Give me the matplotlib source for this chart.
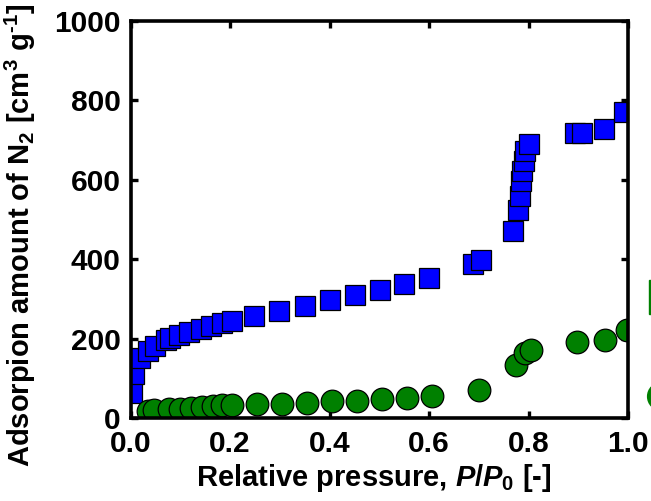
import matplotlib
matplotlib.use("Agg")
import matplotlib.pyplot as plt
from matplotlib.lines import Line2D

plt.rcParams['font.family'] = ['Liberation Sans', 'DejaVu Sans']
plt.rcParams['font.weight'] = 'bold'
plt.rcParams['mathtext.fontset'] = 'custom'
plt.rcParams['mathtext.rm'] = 'Liberation Sans:bold'
plt.rcParams['mathtext.it'] = 'Liberation Sans:bold:italic'
plt.rcParams['mathtext.bf'] = 'Liberation Sans:bold'

# Adsorption isotherm (blue squares)
blue_x = [0.003, 0.007, 0.020, 0.035, 0.050, 0.072, 0.080, 0.097, 0.118, 0.141,
          0.161, 0.183, 0.204, 0.248, 0.299, 0.350, 0.402, 0.452, 0.501, 0.550,
          0.600, 0.688, 0.704, 0.768, 0.778, 0.782, 0.785, 0.787, 0.790, 0.792,
          0.800, 0.894, 0.907, 0.952, 0.992]
blue_y = [62, 110, 150, 168, 182, 196, 202, 209, 217, 224,
          232, 239, 245, 257, 270, 283, 296, 309, 323, 337,
          353, 389, 397, 472, 525, 560, 596, 623, 648, 673,
          690, 717, 719, 729, 770]

# Green circles
green_x = [0.035, 0.048, 0.078, 0.100, 0.121, 0.143, 0.165, 0.183, 0.205, 0.254,
           0.305, 0.355, 0.406, 0.456, 0.506, 0.556, 0.606, 0.701, 0.775, 0.792,
           0.805, 0.898, 0.954, 0.997]
green_y = [18, 20, 23, 23, 26, 28, 30, 32, 33, 35,
           36, 38, 42, 44, 48, 51, 56, 70, 133, 164,
           171, 191, 196, 222]

x_ticks = [0.0, 0.2, 0.4, 0.6, 0.8, 1.0]
x_ticklabels = ['0.0', '0.2', '0.4', '0.6', '0.8', '1.0']
y_ticks = [0, 200, 400, 600, 800, 1000]
y_ticklabels = ['0', '200', '400', '600', '800', '1000']

W, H = 651, 501
fig = plt.figure(figsize=(W / 100, H / 100), dpi=100)
ax = fig.add_axes([130.5 / W, (H - 418) / H, (628 - 130.5) / W, (418 - 21) / H])

ax.plot(blue_x, blue_y, linestyle='none', marker='s', markersize=14.4,
        markerfacecolor='#0000FF', markeredgecolor='black', markeredgewidth=0.9)
ax.plot(green_x, green_y, linestyle='none', marker='o', markersize=16.3,
        markerfacecolor='#008000', markeredgecolor='black', markeredgewidth=0.9)

ax.set_xlim(0, 1)
ax.set_ylim(0, 1000)
ax.set_xticks(x_ticks)
ax.set_xticklabels(x_ticklabels)
ax.set_yticks(y_ticks)
ax.set_yticklabels(y_ticklabels)

for s in ax.spines.values():
    s.set_linewidth(2.6)
ax.tick_params(direction='in', length=5, width=2.4, top=True, right=True,
               labelsize=21.5)
ax.tick_params(axis='x', pad=9)
ax.tick_params(axis='y', pad=7)

ax.set_xlabel('Relative pressure, $\\mathit{P}$/$\\mathit{P}_0$ [-]', fontsize=21,
              fontweight='bold')
ax.set_ylabel('Adsorpion amount of N$_2$ [cm$^3$ g$^{\u2010 1}$]', fontsize=21,
              fontweight='bold')
ax.xaxis.set_label_coords(0.49, -0.11)
ax.yaxis.set_label_coords(-0.185, 0.46)

# partially visible legend markers at the right edge
fig.add_artist(Line2D([665.5 / W], [(H - 297) / H], transform=fig.transFigure,
                      marker='s', markersize=23.8, markerfacecolor='#008000',
                      markeredgecolor='#008000', linestyle='none', clip_on=False))
fig.add_artist(Line2D([661 / W], [(H - 396) / H], transform=fig.transFigure,
                      marker='o', markersize=20, markerfacecolor='#008000',
                      markeredgecolor='#008000', linestyle='none', clip_on=False))

fig.savefig('out.png', dpi=100)
